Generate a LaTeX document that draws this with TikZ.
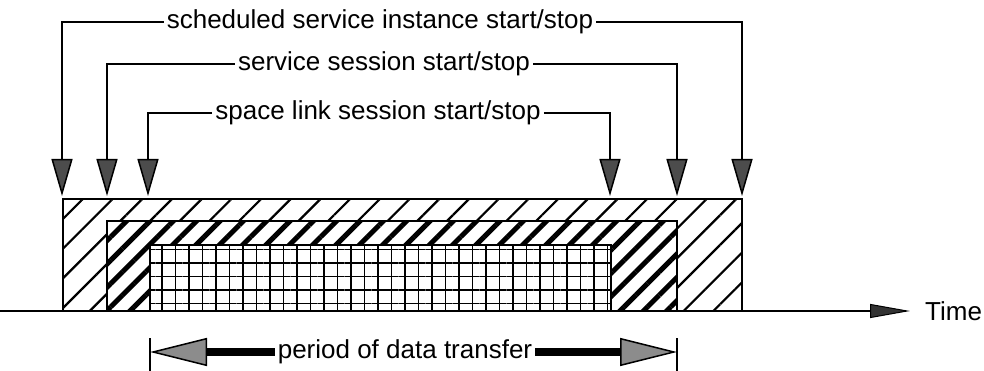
\documentclass[tikz,border=0pt]{standalone}
\usepackage{fontspec}
\setmainfont{Liberation Sans}
\usetikzlibrary{arrows.meta,patterns.meta}
\begin{document}
\begin{tikzpicture}[x=1pt,y=-1pt,
  lbl/.style={font=\fontsize{26}{30}\selectfont, inner sep=3pt},
  callout/.style={line width=2pt, -{Triangle[length=37pt,width=21pt,line width=1.5pt,fill=black!70]}},
  box/.style={line width=2.5pt},
  period/.style={line width=8pt, -{Triangle[length=57pt,width=28pt,line width=1.5pt,fill=black!45]}},
  bar/.style={line width=1.5pt},
  axis/.style={line width=2.5pt, -{Triangle[length=40pt,width=14pt,line width=1pt,fill=black!80]}}]
\useasboundingbox (0,0) rectangle (984,371);
% boxes
\fill[white] (63,199) rectangle (742,311);
\draw[box, pattern={Lines[angle=45,distance=21pt,line width=2.2pt]}] (63,199) rectangle (742,311);
\fill[white] (107,221) rectangle (677,311);
\draw[box, pattern={Lines[angle=45,distance=16.5pt,line width=5pt]}] (107,221) rectangle (677,311);
\fill[white] (150,245) rectangle (611,311);
\draw[box, pattern={Hatch[angle=0,distance=13.5pt,line width=1.8pt]}] (150,245) rectangle (611,311);
% labels
\node[lbl] (sched) at (380,22) {scheduled service instance start/stop};
\node[lbl] (sess) at (384,64) {service session start/stop};
\node[lbl] (slink) at (378,113) {space link session start/stop};
\coordinate (a1) at (62,196);
\coordinate (a2) at (107,196);
\coordinate (a3) at (148,196);
\coordinate (b3) at (610,196);
\coordinate (b2) at (677,196);
\coordinate (b1) at (742,196);
\draw[callout] (sched.west) -| (a1);
\draw[callout] (sched.east) -| (b1);
\draw[callout] (sess.west) -| (a2);
\draw[callout] (sess.east) -| (b2);
\draw[callout] (slink.west) -| (a3);
\draw[callout] (slink.east) -| (b3);
% time axis
\node[lbl, anchor=west] (time) at (922,311) {Time};
\coordinate (ax0) at (0,311);
\coordinate (axtip) at (910,311);
\draw[axis] (ax0) -- (axtip);
% period of data transfer
\node[lbl] (per) at (405,352) {period of data transfer};
\coordinate (pl) at (150,352);
\coordinate (pr) at (677,352);
\coordinate (plt) at (150,338);
\coordinate (plb) at (150,371);
\coordinate (prt) at (677,338);
\coordinate (prb) at (677,371);
\draw[bar] (plt) -- (plb);
\draw[bar] (prt) -- (prb);
\draw[period] (per.west) -- (pl);
\draw[period] (per.east) -- (pr);
\end{tikzpicture}
\end{document}
